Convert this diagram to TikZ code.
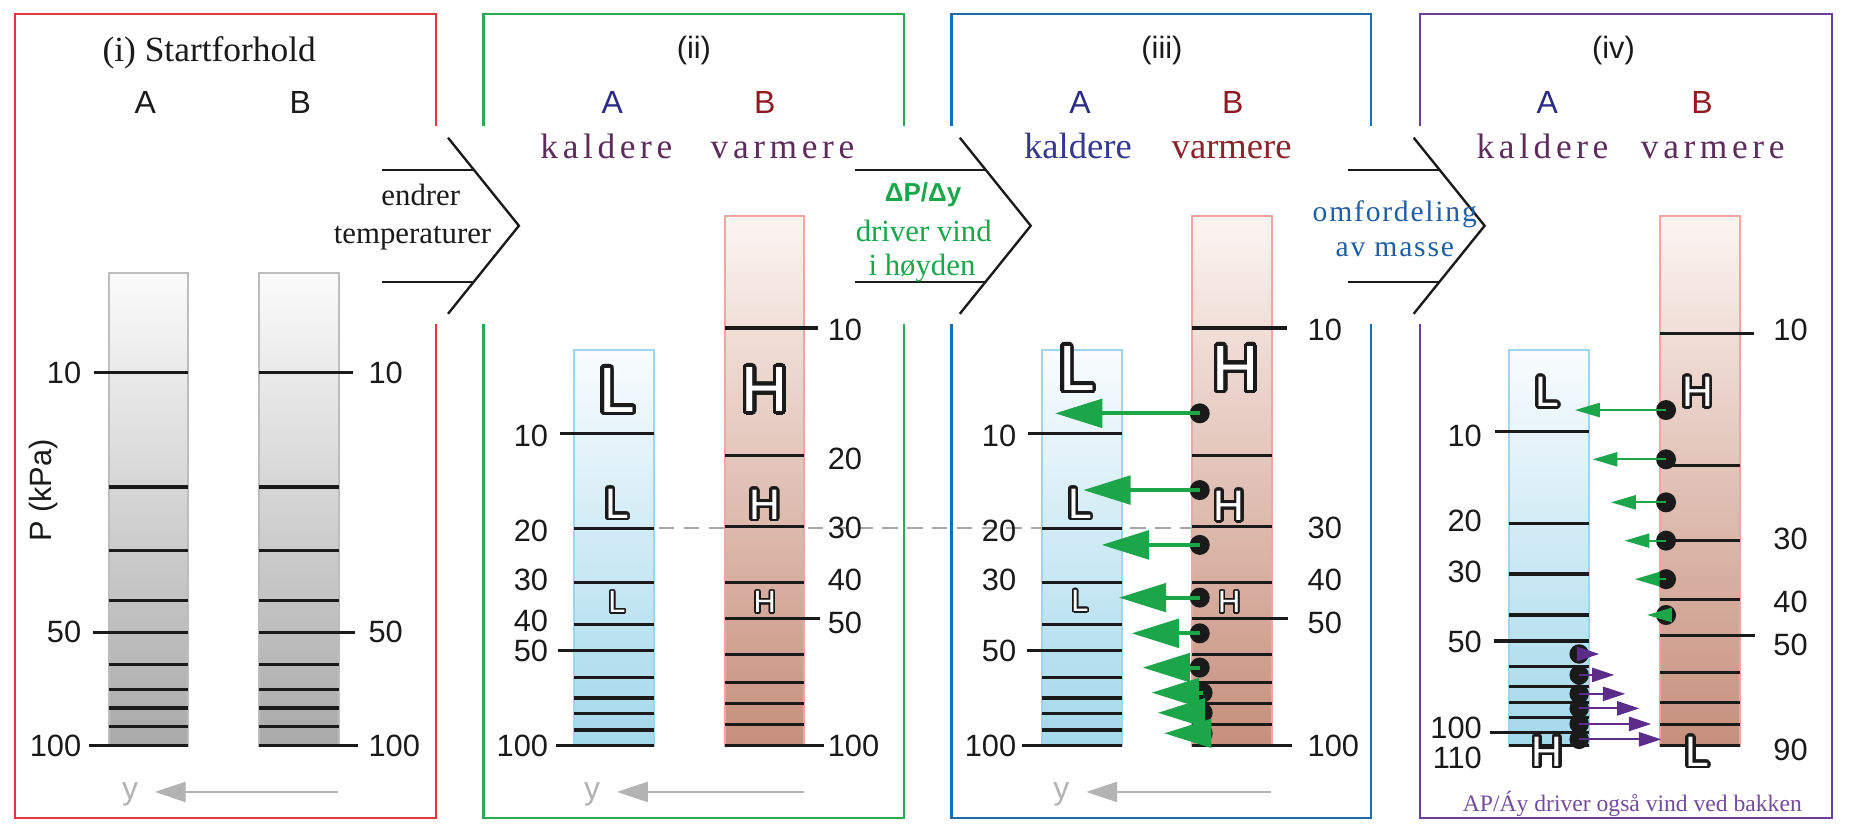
\documentclass[tikz,border=0pt]{standalone}
\usepackage{fontspec}
\setmainfont{Liberation Serif}
\setsansfont{Liberation Sans}
\newfontfamily\spacedserif[LetterSpace=13]{Liberation Serif}
\newfontfamily\blueserif[LetterSpace=6]{Liberation Serif}
\usepackage{contour}
\contournumber{40}
\usetikzlibrary{arrows.meta}

\definecolor{bred}{HTML}{E8343C}
\definecolor{bgreen}{HTML}{2EA855}
\definecolor{bblue}{HTML}{1B6DAD}
\definecolor{bpurple}{HTML}{6A3F99}
\definecolor{navyA}{HTML}{2A2C82}
\definecolor{redB}{HTML}{8E1B22}
\definecolor{plum}{HTML}{5E2C5C}
\definecolor{kalde}{HTML}{34398F}
\definecolor{varme}{HTML}{8A2428}
\definecolor{windg}{HTML}{1BA64A}
\definecolor{windp}{HTML}{5B2C8A}
\definecolor{massb}{HTML}{1F5FA6}
\definecolor{ytext}{HTML}{B3B3B3}
\definecolor{greytop}{HTML}{FBFBFB}
\definecolor{greybot}{HTML}{A9A9A9}
\definecolor{bluetop}{HTML}{F9FCFE}
\definecolor{bluebot}{HTML}{A3D8EB}
\definecolor{pinktop}{HTML}{FCF4F1}
\definecolor{pinkbot}{HTML}{C68F7C}
\definecolor{blueedge}{HTML}{9ED6EE}
\definecolor{pinkedge}{HTML}{F2A5A5}
\definecolor{greyedge}{HTML}{BDBDBD}
\definecolor{ink}{HTML}{1A1A1A}

\newcommand\numfont{\sffamily\fontsize{15.4}{17}\selectfont}
\newcommand\abfont{\sffamily\fontsize{16}{18}\selectfont}
\newcommand\olbig[1]{{\sffamily\fontsize{32}{32}\selectfont\contourlength{1.8pt}\contour{ink}{\textcolor{white}{#1}}}}
\newcommand\olmed[1]{{\sffamily\fontsize{21.3}{21.3}\selectfont\contourlength{1.36pt}\contour{ink}{\textcolor{white}{#1}}}}
\newcommand\olsml[1]{{\sffamily\fontsize{15.4}{15.4}\selectfont\contourlength{0.77pt}\contour{ink}{\textcolor{white}{#1}}}}

\begin{document}
\begin{tikzpicture}[x=0.591pt,y=-0.591pt,
  lev/.style={draw=ink,line width=1.54pt},
  frame/.style={line width=1.06pt},
  chev/.style={draw=ink,line width=1.18pt},
  numl/.style={font=\numfont,text=ink,inner sep=0pt},
  ablab/.style={font=\abfont,inner sep=0pt,anchor=base},
  ol/.style={inner sep=0pt},
  gcol/.style={top color=greytop,bottom color=greybot,draw=greyedge,line width=0.9pt},
  bcol/.style={top color=bluetop,bottom color=bluebot,draw=blueedge,line width=0.9pt},
  pcol/.style={top color=pinktop,bottom color=pinkbot,draw=pinkedge,line width=0.9pt},
  dot/.style={circle,fill=ink,inner sep=0pt,minimum size=10pt},
  pdot/.style={circle,fill=ink,inner sep=0pt,minimum size=9.75pt},
  garrow/.style={draw=windg,line width=2.07pt,-{Triangle[length=23.6pt,width=14.2pt]}},
  sgarrow/.style={draw=windg,line width=0.95pt,-{Triangle[length=12.4pt,width=7.1pt]}},
  parrow/.style={draw=windp,line width=0.95pt,-{Triangle[length=11.2pt,width=7.1pt]}},
  yarrow/.style={draw=ytext,line width=1.06pt,-{Triangle[length=15.4pt,width=10pt]}},
  ylab/.style={font=\sffamily\fontsize{16}{18}\selectfont,text=ytext,inner sep=0pt,anchor=base},
  dashl/.style={draw=black!35,line width=1.06pt,dash pattern=on 7.7pt off 4.7pt},
  chevtext/.style={font=\fontsize{15.4}{17}\selectfont,inner sep=0pt,anchor=base}
]
\useasboundingbox (0,0) rectangle (1570.2,705.6);
\fill[white] (0,0) rectangle (1570.2,705.6);

% ---------- panel frames ----------
\draw[frame,bred] (369,107) -- (369,12) -- (13,12) -- (13,692) -- (369,692) -- (369,274);
\draw[frame,bgreen] (409,107) -- (409,12) -- (765,12) -- (765,107);
\draw[frame,bgreen] (765,274) -- (765,692) -- (409,692) -- (409,274);
\draw[frame,bblue] (805,107) -- (805,12) -- (1160,12) -- (1160,107);
\draw[frame,bblue] (1160,274) -- (1160,692) -- (805,692) -- (805,274);
\draw[frame,bpurple] (1201,107) -- (1201,12) -- (1550,12) -- (1550,692) -- (1201,692) -- (1201,274);

% ---------- chevrons ----------
\draw[chev] (323,144) -- (401,144);
\draw[chev] (323,238.5) -- (401,238.5);
\draw[chev] (379,116.5) -- (439,191) -- (379,265.5);
\draw[chev] (723,144) -- (834,144);
\draw[chev] (723,238.5) -- (834,238.5);
\draw[chev] (812,116.5) -- (872,191) -- (812,265.5);
\draw[chev] (1140,144) -- (1218,144);
\draw[chev] (1140,238.5) -- (1218,238.5);
\draw[chev] (1196,116.5) -- (1256,191) -- (1196,265.5);

\node[chevtext,text=ink] (c1a) at (356,173.5) {endrer};
\node[chevtext,text=ink] (c1b) at (349,205.9) {temperaturer};
\node[font=\sffamily\bfseries\fontsize{13}{14}\selectfont,text=windg,inner sep=0pt,anchor=base] (c2a) at (781,170.6) {ΔP/Δy};
\node[chevtext,text=windg] (c2b) at (781.5,204.5) {driver vind};
\node[chevtext,text=windg] (c2c) at (780,232.7) {i høyden};
\node[font=\blueserif\fontsize{14.8}{16}\selectfont,text=massb,inner sep=0pt,anchor=base] (c3a) at (1180,187.5) {omfordeling};
\node[font=\blueserif\fontsize{14.8}{16}\selectfont,text=massb,inner sep=0pt,anchor=base] (c3b) at (1180,217) {av masse};

% ---------- titles ----------
\node[font=\fontsize{17.7}{19}\selectfont,text=ink,inner sep=0pt,anchor=base] (t1) at (177,52) {(i) Startforhold};
\node[font=\sffamily\fontsize{15.4}{17}\selectfont,text=ink,inner sep=0pt,anchor=base] (t2) at (587,49.3) {(ii)};
\node[font=\sffamily\fontsize{15.4}{17}\selectfont,text=ink,inner sep=0pt,anchor=base] (t3) at (983,49.3) {(iii)};
\node[font=\sffamily\fontsize{15.4}{17}\selectfont,text=ink,inner sep=0pt,anchor=base] (t4) at (1365,49.3) {(iv)};

\node[ablab,text=ink] (iA) at (123,96) {A};
\node[ablab,text=ink] (iB) at (254,96) {B};
\node[ablab,text=navyA] (iiA) at (518,96) {A};
\node[ablab,text=redB] (iiB) at (647,96) {B};
\node[ablab,text=navyA] (iiiA) at (913.7,96) {A};
\node[ablab,text=redB] (iiiB) at (1043,96) {B};
\node[ablab,text=navyA] (ivA) at (1309,96) {A};
\node[ablab,text=redB] (ivB) at (1440,96) {B};

\node[font=\spacedserif\fontsize{17.7}{19}\selectfont,text=plum,inner sep=0pt,anchor=base] (iik) at (513,134) {kaldere};
\node[font=\spacedserif\fontsize{17.7}{19}\selectfont,text=plum,inner sep=0pt,anchor=base] (iiv) at (662,134) {varmere};
\node[font=\fontsize{18.3}{20}\selectfont,text=kalde,inner sep=0pt,anchor=base] (iiik) at (912,134) {kaldere};
\node[font=\fontsize{18.3}{20}\selectfont,text=varme,inner sep=0pt,anchor=base] (iiiv) at (1042,134) {varmere};
\node[font=\spacedserif\fontsize{17.7}{19}\selectfont,text=plum,inner sep=0pt,anchor=base] (ivk) at (1305,134) {kaldere};
\node[font=\spacedserif\fontsize{17.7}{19}\selectfont,text=plum,inner sep=0pt,anchor=base] (ivv) at (1449,134) {varmere};

% ---------- dashed reference line ----------
\draw[dashl] (557.6,446.4) -- (1008,446.4);

% ---------- panel i ----------
\shade[gcol] (92,231) rectangle (159,631);
\shade[gcol] (219,231) rectangle (287,631);
\foreach \y in {315.4,412,465.5,508.3,534.8,561.8,583,599,615,631}{
  \draw[lev] (92,\y) -- (159,\y);
  \draw[lev] (219,\y) -- (287,\y);
}
\draw[lev] (79.5,315.4) -- (159,315.4);
\draw[lev] (78.5,534.8) -- (159,534.8);
\draw[lev] (75.5,631) -- (159,631);
\draw[lev] (219,315.4) -- (299,315.4);
\draw[lev] (219,534.8) -- (300,534.8);
\draw[lev] (219,631) -- (303,631);
\foreach \t/\y in {10/315.4,50/534.8,100/631}{
  \node[numl,anchor=east] (iAn\t) at (69,\y) {\t};
  \node[numl,anchor=west] (iBn\t) at (311.5,\y) {\t};
}
\node[font=\sffamily\fontsize{15.4}{17}\selectfont,text=ink,inner sep=0pt,rotate=90] (pk) at (37,415) {P (kPa)};
\coordinate (iy0) at (286,670);
\coordinate (iy1) at (131,670);
\draw[yarrow] (iy0) -- (iy1);
\node[ylab] (iy) at (110,676.8) {y};

% ---------- panel ii ----------
\shade[bcol] (485.6,296) rectangle (553,631);
\shade[pcol] (613.5,183) rectangle (680,631);
\foreach \y in {367,447,492.6,528,550.5,573,590.5,604,617.6,631}{
  \draw[lev] (485.6,\y) -- (553,\y);
}
\foreach \y in {277.5,385.5,445.6,493,523.5,553.4,577.5,595.3,613,631}{
  \draw[lev] (613.5,\y) -- (680,\y);
}
\draw[lev] (474,367) -- (553,367);
\draw[lev] (472,550.5) -- (553,550.5);
\draw[lev] (470,631) -- (553,631);
\draw[lev] (613.5,277.5) -- (692,277.5);
\draw[lev] (613.5,523.5) -- (694,523.5);
\draw[lev] (613.5,631) -- (697,631);
\foreach \t/\y in {10/369,20/449,30/491,40/525,50/551,100/631}{
  \node[numl,anchor=east] (iiAn\t) at (464,\y) {\t};
}
\foreach \t/\y in {10/279,20/388,30/447,40/491,50/527,100/631}{
  \node[numl,anchor=west] (iiBn\t) at (700,\y) {\t};
}
\node[ol] (iiL1) at (522,331.5) {\olbig{L}};
\node[ol] (iiL2) at (522,427) {\olmed{L}};
\node[ol] (iiL3) at (522,510) {\olsml{L}};
\node[ol] (iiH1) at (647,331) {\olbig{H}};
\node[ol] (iiH2) at (647,428) {\olmed{H}};
\node[ol] (iiH3) at (647,510) {\olsml{H}};
\coordinate (iiy0) at (680,670);
\coordinate (iiy1) at (522,670);
\draw[yarrow] (iiy0) -- (iiy1);
\node[ylab] (iiy) at (501,676.8) {y};

% ---------- panel iii ----------
\shade[bcol] (881.5,296) rectangle (949,631);
\shade[pcol] (1008.5,183) rectangle (1076,631);
\foreach \y in {367,447,492.6,528,550.5,573,590.5,604,617.6,631}{
  \draw[lev] (881.5,\y) -- (949,\y);
}
\foreach \y in {277.5,385.5,445.6,493,523.5,553.4,577.5,595.3,613,631}{
  \draw[lev] (1008.5,\y) -- (1076,\y);
}
\draw[lev] (869.5,367) -- (949,367);
\draw[lev] (869,550.5) -- (949,550.5);
\draw[lev] (865,631) -- (949,631);
\draw[lev] (1008.5,277.5) -- (1088.5,277.5);
\draw[lev] (1008.5,523.5) -- (1089.6,523.5);
\draw[lev] (1008.5,631) -- (1092.8,631);
\foreach \t/\y in {10/369,20/449,30/491,50/551,100/631}{
  \node[numl,anchor=east] (iiiAn\t) at (860,\y) {\t};
}
\foreach \t/\y in {10/279,30/447,40/491,50/527,100/631}{
  \node[numl,anchor=west] (iiiBn\t) at (1106,\y) {\t};
}
\node[ol] (iiiL1) at (911,313) {\olbig{L}};
\node[ol] (iiiL2) at (913.6,427) {\olmed{L}};
\node[ol] (iiiL3) at (913.6,509) {\olsml{L}};
\node[ol] (iiiH1) at (1045.5,313) {\olbig{H}};
\node[ol] (iiiH2) at (1040,429) {\olmed{H}};
\node[ol] (iiiH3) at (1040,510) {\olsml{H}};
\foreach \i/\dx/\dy/\tx in {1/1015/349.7/892.6,2/1015/414.6/916.5,3/1015/461/932,4/1015/505.6/946.7,5/1015/535.8/957.4,6/1015/564.8/966.7,7/1017.4/586/974.3,8/1017.5/603/979.5,9/1017.5/620.4/985}{
  \node[dot] (g\i) at (\dx,\dy) {};
  \coordinate (gt\i) at (\tx,\dy);
}
\foreach \i in {1,...,9}{
  \draw[garrow] (g\i.center) -- (gt\i);
}
\coordinate (iiiy0) at (1075,670);
\coordinate (iiiy1) at (919,670);
\draw[yarrow] (iiiy0) -- (iiiy1);
\node[ylab] (iiiy) at (898,676.8) {y};

% ---------- panel iv ----------
\shade[bcol] (1276.7,296) rectangle (1344,631);
\shade[pcol] (1404.6,183) rectangle (1472,631);
\foreach \y in {365,442.6,485.6,520.3,542.3,564,581,594,607,619.8,631}{
  \draw[lev] (1276.7,\y) -- (1344,\y);
}
\foreach \y in {282,394,456.9,506.8,538,569,594.2,612.8,631}{
  \draw[lev] (1404.6,\y) -- (1472,\y);
}
\draw[lev] (1265,365) -- (1344,365);
\draw[lev] (1263.7,542.3) -- (1344,542.3);
\draw[lev] (1260.6,619.8) -- (1344,619.8);
\draw[lev] (1404.6,282) -- (1483.7,282);
\draw[lev] (1404.6,538) -- (1485,538);
\foreach \t/\y in {10/369,20/441,30/484,50/543,100/616,110/641}{
  \node[numl,anchor=east] (ivAn\t) at (1254,\y) {\t};
}
\foreach \t/\y in {10/279,30/456,40/509,50/545.7,90/634.5}{
  \node[numl,anchor=west] (ivBn\t) at (1500,\y) {\t};
}
\node[ol] (ivL1) at (1309,332.7) {\olmed{L}};
\node[ol] (ivH1) at (1436,332.7) {\olmed{H}};
\node[ol] (ivH2) at (1309,637) {\olmed{H}};
\node[ol] (ivL2) at (1436,637) {\olmed{L}};
\foreach \i/\dy/\tx in {1/346.9/1332.5,2/388.6/1347.4,3/425/1363,4/457.4/1374.5,5/490/1383,6/520.3/1393.4}{
  \node[dot] (sg\i) at (1409.5,\dy) {};
  \coordinate (sgt\i) at (\tx,\dy);
}
\foreach \i in {1,...,6}{
  \draw[sgarrow] (sg\i.center) -- (sgt\i);
}
\foreach \i/\dy/\tx in {1/553.3/1353,2/571/1365.8,3/587/1375,4/599.3/1387,5/612.5/1397,6/625.5/1405.5}{
  \node[pdot] (pd\i) at (1336,\dy) {};
  \coordinate (pt\i) at (\tx,\dy);
}
\foreach \i in {1,...,6}{
  \draw[parrow] (pd\i.center) -- (pt\i);
}
\node[font=\fontsize{11.8}{13}\selectfont,text=windp!85!white,inner sep=0pt,anchor=base] (ivtxt) at (1381,686.7) {AP/Áy driver også vind ved bakken};
\end{tikzpicture}
\end{document}
